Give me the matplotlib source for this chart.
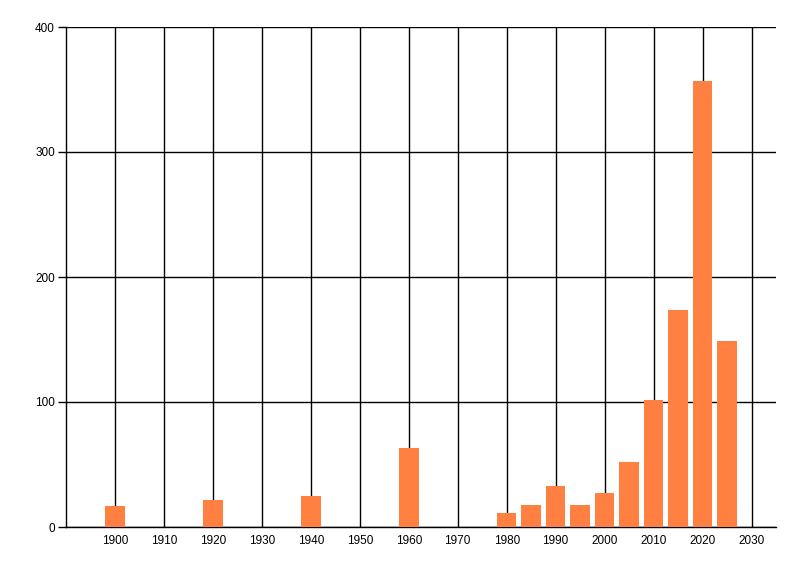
import matplotlib
matplotlib.use('Agg')
import matplotlib.pyplot as plt

years = [1900, 1920, 1940, 1960, 1980, 1985, 1990, 1995, 2000, 2005, 2010, 2015, 2020, 2025]
counts = [17, 22, 25, 63, 11, 18, 33, 18, 27, 52, 102, 174, 357, 149]
xticks = list(range(1900, 2031, 10))
yticks = [0, 100, 200, 300, 400]

plt.rcParams['font.family'] = ['Liberation Sans', 'DejaVu Sans']
fig = plt.figure(figsize=(8, 5.76), dpi=100)
ax = fig.add_axes([66/800, 1 - 527/576, 710/800, 500/576])

ax.bar(years, counts, width=4, color='#FF8040', zorder=3)

ax.set_xlim(1890, 2035)
ax.set_ylim(0, 400)
ax.set_xticks(xticks)
ax.set_yticks(yticks)
ax.grid(True, color='black', linewidth=1, zorder=0)
ax.set_axisbelow(True)

for s in ['top', 'right']:
    ax.spines[s].set_visible(False)
for s in ['left', 'bottom']:
    ax.spines[s].set_linewidth(1)

ax.tick_params(axis='x', length=0, pad=6, labelsize=8.5)
ax.tick_params(axis='y', length=6, width=1, pad=2, labelsize=8.5)

fig.savefig('out.png', dpi=100)
